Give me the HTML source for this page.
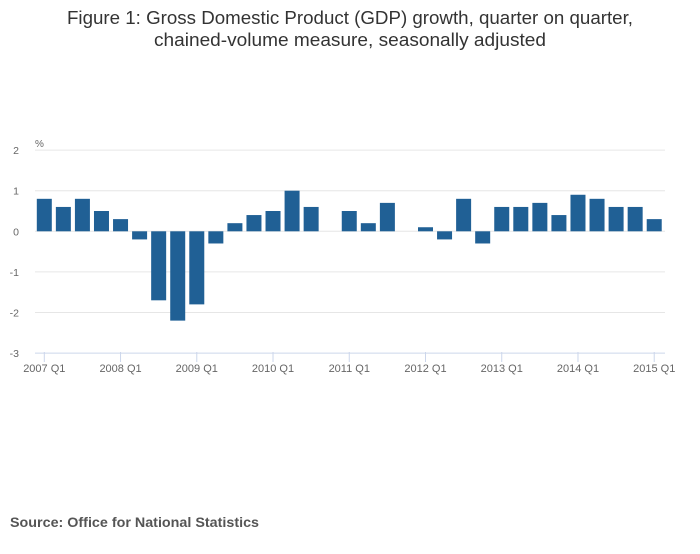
<!DOCTYPE html>
<html><head><meta charset="utf-8"><style>
body{margin:0;background:#fff;font-family:"Liberation Sans",sans-serif;}
</style></head><body>
<svg width="700" height="549" xmlns="http://www.w3.org/2000/svg">
<text x="350" y="24" text-anchor="middle" font-size="18" fill="#333" textLength="566" lengthAdjust="spacingAndGlyphs">Figure 1: Gross Domestic Product (GDP) growth, quarter on quarter,</text>
<text x="350" y="46" text-anchor="middle" font-size="18" fill="#333" textLength="392" lengthAdjust="spacingAndGlyphs">chained-volume measure, seasonally adjusted</text>
<text x="35" y="147" font-size="10" fill="#666">%</text>
<g id="grid"></g><g id="bars"></g><g id="xaxis"></g>
<text x="10" y="527" font-size="13.5" font-weight="bold" fill="#555" textLength="249" lengthAdjust="spacingAndGlyphs">Source: Office for National Statistics</text>
</svg>
<script>
const values=[0.8,0.6,0.8,0.5,0.3,-0.2,-1.7,-2.2,-1.8,-0.3,0.2,0.4,0.5,1.0,0.6,0.0,0.5,0.2,0.7,0.0,0.1,-0.2,0.8,-0.3,0.6,0.6,0.7,0.4,0.9,0.8,0.6,0.6,0.3];
const yTicks=[2,1,0,-1,-2,-3];
const xLabels=["2007 Q1","2008 Q1","2009 Q1","2010 Q1","2011 Q1","2012 Q1","2013 Q1","2014 Q1","2015 Q1"];
const NS="http://www.w3.org/2000/svg";
const y=v=>231.3-v*40.6;
const x=i=>44.3+i*19.06;
const left=35,right=665;
function mk(t,a,p){const e=document.createElementNS(NS,t);for(const k in a)e.setAttribute(k,a[k]);p.appendChild(e);return e;}
const g=document.getElementById('grid');
yTicks.forEach(v=>{
 const l=mk('line',{x1:left,x2:right,y1:y(v),y2:y(v),stroke:v===-3?'#ccd6eb':'#e6e6e6','stroke-width':1},g);
 
 
 const t=mk('text',{x:19,y:y(v)+4,'text-anchor':'end','font-size':10.5,fill:'#666'},g);
 t.textContent=v;
 
 
});
const b=document.getElementById('bars');
values.forEach((v,i)=>{
 const r=mk('rect',{x:x(i)-7.5,width:15,y:Math.min(y(v),y(0)),height:Math.abs(y(v)-y(0)),fill:'#206095'},b);
 
 
});
const xa=document.getElementById('xaxis');
xLabels.forEach((s,k)=>{
 const xi=x(k*4);
 const l=mk('line',{x1:xi,x2:xi,y1:352,y2:362,stroke:'#ccd6eb'},xa);
 
 
 const t=mk('text',{x:xi,y:372,'text-anchor':'middle','font-size':11,fill:'#666'},xa);
 t.textContent=s;
 
 
});
</script>
</body></html>
